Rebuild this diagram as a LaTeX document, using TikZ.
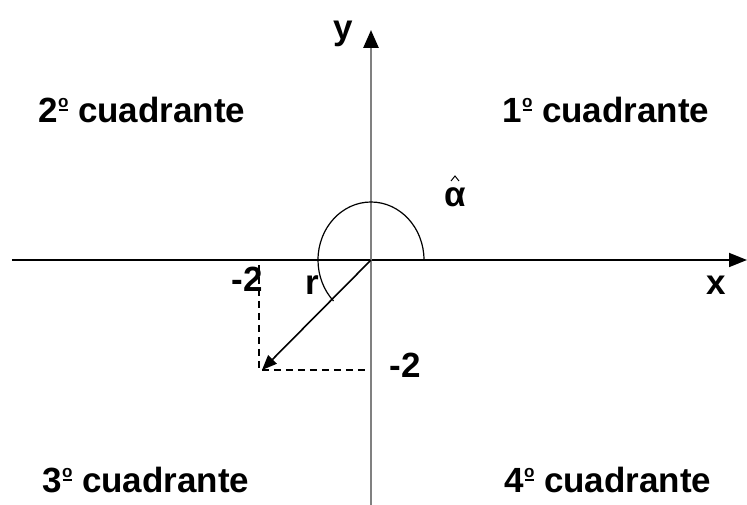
\documentclass[tikz,border=0pt]{standalone}
\usepackage{fontspec}
\setmainfont{Liberation Sans}
\usetikzlibrary{arrows.meta}
% ordinal mark with underline
\newcommand{\ordm}{\raisebox{15pt}{\fontsize{17}{17}\selectfont\bfseries\ooalign{o\cr\hidewidth\rule[-0.18em]{0.52em}{0.11em}\hidewidth}}}

\begin{document}
\begin{tikzpicture}[x=1pt,y=1pt,
  every node/.style={font=\fontsize{35}{40}\selectfont\bfseries, inner sep=0pt},
  axis/.style={line width=1.8pt, -{Triangle[length=18pt,width=14pt]}},
  yaxis/.style={line width=2.8pt, gray, -{Triangle[length=18pt,width=15pt,color=black]}},
  vec/.style={line width=1.6pt, -{Triangle[length=15pt,width=12pt]}},
  guide/.style={line width=1.4pt, dash pattern=on 7pt off 5pt}]
  \useasboundingbox (-371,-245) rectangle (376,260);
  %% Axes
  \coordinate (O) at (0,0);
  \coordinate (xl) at (-359,0);
  \coordinate (xr) at (376,0);
  \coordinate (yb) at (0,-245);
  \coordinate (yt) at (0,230);
  \draw[axis] (xl) -- (xr);
  \draw[yaxis] (yb) -- (yt);
  \node[anchor=base] (xlab) at (345,-35) {x};
  \node[anchor=base] (ylab) at (-28,220) {y};
  %% Quadrant labels
  \node[anchor=base] (q2) at (-229,137) {2\ordm\ cuadrante};
  \node[anchor=base] (q1) at (235,137) {1\ordm\ cuadrante};
  \node[anchor=base] (q3) at (-225,-233) {3\ordm\ cuadrante};
  \node[anchor=base] (q4) at (237,-233) {4\ordm\ cuadrante};
  %% Angle
  \coordinate (a0) at (53,0);
  \draw[line width=1.2pt] (a0) arc[start angle=0, end angle=225, x radius=53, y radius=58];
  \node (alpha) at (84,63) {α};
  \draw[line width=1pt] (80,79) -- (84,84) -- (88,79);
  %% Vector and its projections
  \coordinate (P) at (-109,-110);
  \coordinate (px) at (-112,-5);
  \coordinate (pxb) at (-112,-112);
  \coordinate (py) at (-6,-110);
  \draw[vec] (O) -- (P);
  \draw[guide] (px) -- (pxb);
  \draw[guide] (P) -- (py);
  \node (m2x) at (-124,-19) {-2};
  \node (m2y) at (34,-105) {-2};
  \node (rlab) at (-59,-25) {r};
\end{tikzpicture}
\end{document}
